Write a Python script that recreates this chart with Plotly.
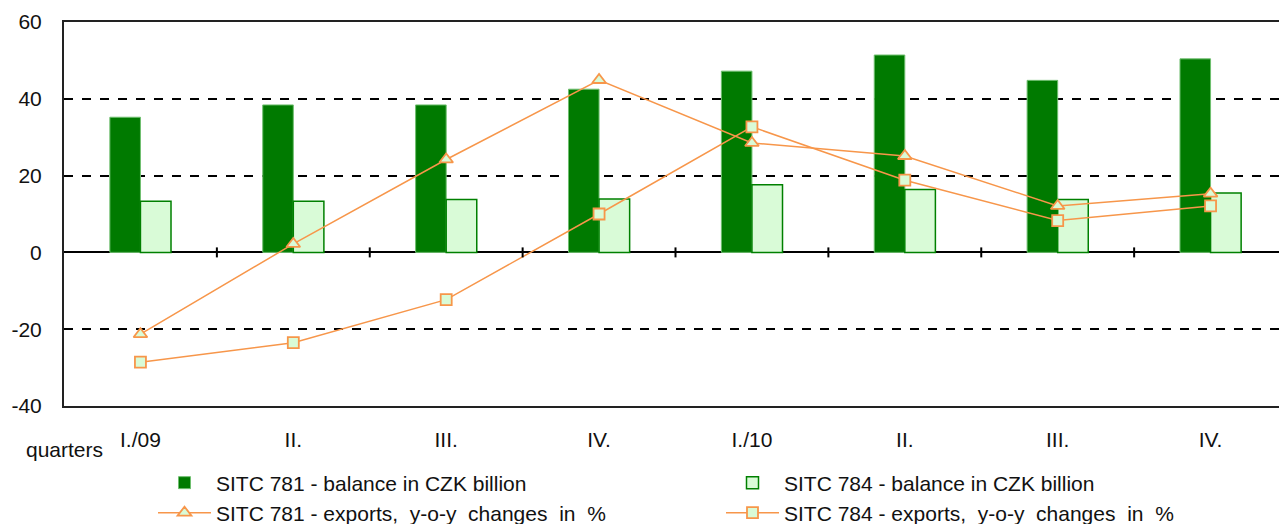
import plotly.graph_objects as go

categories = ["I./09", "II.", "III.", "IV.", "I./10", "II.", "III.", "IV."]
bal_781 = [35.2, 38.4, 38.4, 42.5, 47.2, 51.4, 44.8, 50.4]
bal_784 = [13.3, 13.3, 13.8, 13.9, 17.6, 16.4, 13.8, 15.5]
exp_781 = [-21.3, 2.2, 24.2, 44.9, 28.5, 25.1, 12.1, 15.3]
exp_784 = [-28.6, -23.5, -12.3, 10.0, 32.7, 18.8, 8.3, 12.1]
y_ticks = [-40, -20, 0, 20, 40, 60]
y_tick_labels = ["-40", "-20", "0", "20", "40", "60"]

names = ["SITC 781 - balance in CZK billion", "SITC 784 - balance in CZK billion",
         "SITC 781 - exports,  y-o-y  changes  in  %", "SITC 784 - exports,  y-o-y  changes  in  %"]

xs = list(range(len(categories)))
FONT = "Liberation Sans, Arial, sans-serif"
FS = 21
TXT = "#111111"
DARK = "#007A00"
LIGHT = "#D9FBD7"
ORANGE = "#F7964A"

# page body has an 8px margin, so the figure is drawn 8px in from the window's corner
W, H = 1279, 516
ML, MR, MT, MB = 56, 0, 14, 118
PW, PH = W - ML - MR, H - MT - MB

fig = go.Figure()
fig.add_trace(go.Bar(x=xs, y=bal_781, name=names[0], marker=dict(color=DARK, line=dict(color="#6fbf6f", width=1)), legend="legend"))
fig.add_trace(go.Bar(x=xs, y=bal_784, name=names[1], marker=dict(color=LIGHT, line=dict(color="#008000", width=1.5)), legend="legend"))
fig.add_trace(go.Scatter(x=xs, y=exp_781, name=names[2], mode="lines+markers",
                         line=dict(color=ORANGE, width=1.5),
                         marker=dict(symbol="triangle-up", size=12, color=LIGHT, line=dict(color=ORANGE, width=1.8)),
                         legend="legend2"))
fig.add_trace(go.Scatter(x=xs, y=exp_784, name=names[3], mode="lines+markers",
                         line=dict(color=ORANGE, width=1.5),
                         marker=dict(symbol="square", size=11, color=LIGHT, line=dict(color=ORANGE, width=1.8)),
                         legend="legend2"))

# tick marks crossing the zero line at category boundaries
for i in range(1, len(categories)):
    fig.add_shape(type="line", xref="x", yref="y", x0=i - 0.5, x1=i - 0.5,
                  ysizemode="pixel", yanchor=0, y0=-5, y1=5,
                  line=dict(color="black", width=2), layer="above")

fig.add_annotation(text="quarters", xref="paper", yref="paper", x=(16 - ML) / PW, y=(H - MB - 441) / PH,
                   xanchor="left", yanchor="middle", showarrow=False,
                   font=dict(family=FONT, size=FS, color=TXT))

legend_common = dict(orientation="h", xref="container", yref="container", xanchor="left", yanchor="middle",
                     entrywidth=500, itemwidth=53, font=dict(family=FONT, size=FS, color=TXT),
                     bgcolor="rgba(0,0,0,0)")

fig.update_layout(
    width=W, height=H,
    margin=dict(l=ML, r=MR, t=MT, b=MB),
    plot_bgcolor="white", paper_bgcolor="white",
    font=dict(family=FONT, size=FS, color=TXT),
    barmode="group", bargap=0.6, bargroupgap=0,
    legend=dict(x=145 / W, y=1 - 475 / H, **legend_common),
    legend2=dict(x=145 / W, y=1 - 505 / H, **legend_common),
    xaxis=dict(range=[-0.5, len(categories) - 0.5], tickvals=xs, ticktext=categories,
               showgrid=False, showline=True, linecolor="#222", linewidth=2, mirror=True,
               ticks="", ticklabelstandoff=14, zeroline=False, automargin=False,
               tickfont=dict(family=FONT, size=FS, color=TXT)),
    yaxis=dict(range=[-40, 60], tickvals=y_ticks, ticktext=y_tick_labels, showgrid=True,
               gridcolor="black", griddash="dash",
               gridwidth=1.5, zeroline=True, zerolinecolor="black", zerolinewidth=2,
               showline=True, linecolor="#222", linewidth=2, ticks="", ticklabelstandoff=16,
               automargin=False, tickfont=dict(family=FONT, size=FS, color=TXT)),
)

fig.write_html("out.html")
